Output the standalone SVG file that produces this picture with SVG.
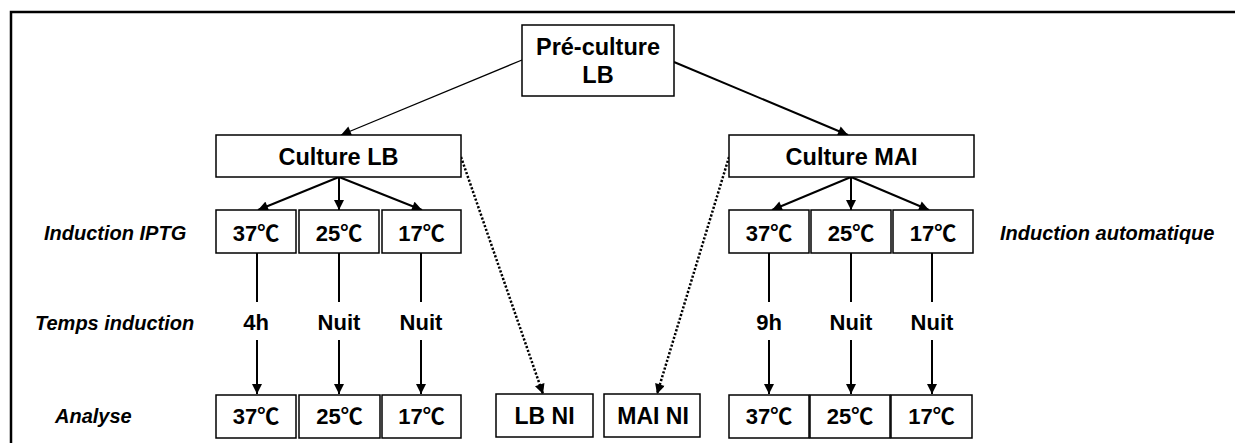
<svg xmlns="http://www.w3.org/2000/svg" width="1235" height="443" viewBox="0 0 1235 443">
<style>
.box{fill:#fff;stroke:#000;stroke-width:1.5}
.t{font-family:"Liberation Sans",Arial,"Noto Sans CJK SC",sans-serif;font-weight:bold;font-size:23px;text-anchor:middle;fill:#000}
.h{font-size:23.5px}
.tc{font-size:22px}
.lab{font-family:"Liberation Sans",Arial,sans-serif;font-weight:bold;font-style:italic;font-size:20px;fill:#000}
.c{fill:none;stroke:#000;stroke-width:2}
.thin{fill:none;stroke:#000;stroke-width:1.3}
.dot{fill:none;stroke:#000;stroke-width:2.5;stroke-dasharray:2.2 1.8}
</style>
<defs>
<marker id="ah" viewBox="0 0 10 10" refX="10" refY="5" markerWidth="12" markerHeight="10" markerUnits="userSpaceOnUse" orient="auto"><path d="M0,0 L10,5 L0,10 Z" fill="#000"/></marker>
</defs>
<rect width="1235" height="443" fill="#fff"/>
<path d="M11,443 V12 H1235" fill="none" stroke="#000" stroke-width="2.5"/>

<g id="connectors">
<line class="thin" x1="522" y1="60" x2="341" y2="135" marker-end="url(#ah)"/>
<line class="c" x1="674" y1="62" x2="848" y2="135" marker-end="url(#ah)"/>
<line class="c" x1="339" y1="177" x2="258" y2="210" marker-end="url(#ah)"/>
<line class="c" x1="339" y1="177" x2="339" y2="210" marker-end="url(#ah)"/>
<line class="c" x1="339" y1="177" x2="422" y2="210" marker-end="url(#ah)"/>
<line class="c" x1="851" y1="177" x2="772" y2="210" marker-end="url(#ah)"/>
<line class="c" x1="851" y1="177" x2="851" y2="210" marker-end="url(#ah)"/>
<line class="c" x1="851" y1="177" x2="929" y2="210" marker-end="url(#ah)"/>
<line class="c" x1="257" y1="253" x2="257" y2="302"/>
<line class="c" x1="257" y1="340" x2="257" y2="394" marker-end="url(#ah)"/>
<line class="c" x1="339" y1="253" x2="339" y2="302"/>
<line class="c" x1="339" y1="340" x2="339" y2="394" marker-end="url(#ah)"/>
<line class="c" x1="421" y1="253" x2="421" y2="302"/>
<line class="c" x1="421" y1="340" x2="421" y2="394" marker-end="url(#ah)"/>
<line class="c" x1="769" y1="253" x2="769" y2="302"/>
<line class="c" x1="769" y1="340" x2="769" y2="394" marker-end="url(#ah)"/>
<line class="c" x1="851" y1="253" x2="851" y2="302"/>
<line class="c" x1="851" y1="340" x2="851" y2="394" marker-end="url(#ah)"/>
<line class="c" x1="932" y1="253" x2="932" y2="302"/>
<line class="c" x1="932" y1="340" x2="932" y2="394" marker-end="url(#ah)"/>
<line class="dot" x1="461" y1="157" x2="543" y2="394" marker-end="url(#ah)"/>
<line class="dot" x1="729" y1="157" x2="657" y2="394" marker-end="url(#ah)"/>
</g>

<g id="pre-culture"><rect class="box" x="522" y="25" width="152" height="71"/><text class="t h" x="598" y="55">Pré-culture</text><text class="t h" x="598" y="83">LB</text></g>
<g id="culture-lb"><rect class="box" x="216" y="135" width="245" height="42"/><text class="t h" x="338.5" y="165">Culture LB</text></g>
<g id="culture-mai"><rect class="box" x="729" y="135" width="245" height="42"/><text class="t h" x="851.5" y="165">Culture MAI</text></g>

<g id="lb-ind-37"><rect class="box" x="216" y="210" width="80" height="43"/><text class="t tc" x="256" y="241">37℃</text></g>
<g id="lb-ind-25"><rect class="box" x="299" y="210" width="80" height="43"/><text class="t tc" x="339" y="241">25℃</text></g>
<g id="lb-ind-17"><rect class="box" x="382" y="210" width="79" height="43"/><text class="t tc" x="421.5" y="241">17℃</text></g>
<g id="mai-ind-37"><rect class="box" x="729" y="210" width="80" height="43"/><text class="t tc" x="769" y="241">37℃</text></g>
<g id="mai-ind-25"><rect class="box" x="811" y="210" width="80" height="43"/><text class="t tc" x="851" y="241">25℃</text></g>
<g id="mai-ind-17"><rect class="box" x="893" y="210" width="80" height="43"/><text class="t tc" x="933" y="241">17℃</text></g>

<g id="lb-an-37"><rect class="box" x="216" y="395" width="80" height="43"/><text class="t tc" x="256" y="424">37℃</text></g>
<g id="lb-an-25"><rect class="box" x="299" y="395" width="81" height="43"/><text class="t tc" x="339.5" y="424">25℃</text></g>
<g id="lb-an-17"><rect class="box" x="382" y="395" width="79" height="43"/><text class="t tc" x="421.5" y="424">17℃</text></g>
<g id="lb-ni"><rect class="box" x="496" y="394" width="97" height="43"/><text class="t" x="544.5" y="424">LB NI</text></g>
<g id="mai-ni"><rect class="box" x="604" y="394" width="96" height="43"/><text class="t" x="653" y="424">MAI NI</text></g>
<g id="mai-an-37"><rect class="box" x="729" y="395" width="80" height="43"/><text class="t tc" x="769" y="424">37℃</text></g>
<g id="mai-an-25"><rect class="box" x="810" y="395" width="80" height="43"/><text class="t tc" x="850" y="424">25℃</text></g>
<g id="mai-an-17"><rect class="box" x="891" y="395" width="81" height="43"/><text class="t tc" x="931.5" y="424">17℃</text></g>

<g id="time-labels">
<text class="t tc" x="256" y="330">4h</text>
<text class="t tc" x="339" y="330">Nuit</text>
<text class="t tc" x="421" y="330">Nuit</text>
<text class="t tc" x="769" y="330">9h</text>
<text class="t tc" x="851" y="330">Nuit</text>
<text class="t tc" x="932" y="330">Nuit</text>
</g>
<g id="row-labels">
<text class="lab" x="44" y="240">Induction IPTG</text>
<text class="lab" x="35" y="330">Temps induction</text>
<text class="lab" x="55" y="423">Analyse</text>
<text class="lab" x="1000" y="240">Induction automatique</text>
</g>
</svg>
